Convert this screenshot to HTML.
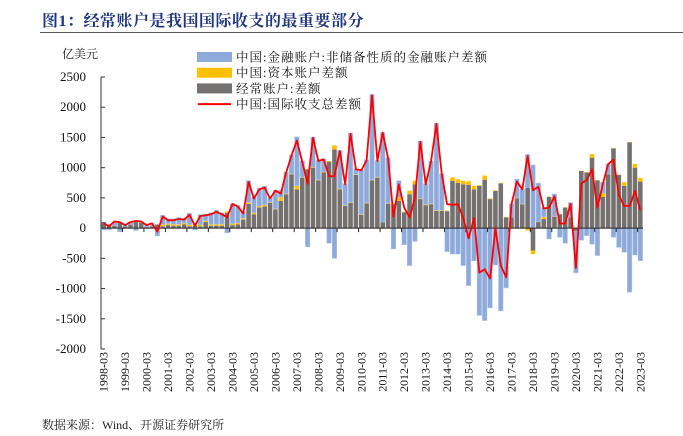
<!DOCTYPE html>
<html><head><meta charset="utf-8"><style>
body{margin:0;background:#fff;width:683px;height:436px;overflow:hidden;font-family:"Liberation Serif","Noto Serif CJK SC",serif}
#title{position:absolute;left:42px;top:8px;font-size:16px;font-weight:bold;color:#1f3580;font-family:"Liberation Serif","Noto Serif CJK SC",serif;letter-spacing:0.5px}
#rule{position:absolute;left:40px;top:32px;width:643px;height:1px;background:#555}
#unit{position:absolute;left:62px;top:45px;font-size:12px;color:#222}
#src{position:absolute;left:42px;top:416px;font-size:12px;color:#222}
svg{position:absolute;left:0;top:0}
</style></head><body>
<div id="title">图1：经常账户是我国国际收支的最重要部分</div>
<div id="rule"></div>
<div id="unit">亿美元</div>
<div id="src">数据来源：Wind、开源证券研究所</div>
<svg id="chart" width="683" height="436"></svg>
<script>
const yTicks=[2500,2000,1500,1000,500,0,-500,-1000,-1500,-2000];
const startYear=1998;
const currentAccount=[100,60,40,100,30,60,100,90,20,30,60,30,50,40,40,60,30,40,30,100,40,40,40,250,50,60,140,400,230,340,360,
420,310,450,560,890,640,835,970,1000,790,920,1100,1300,640,370,420,880,220,410,790,835,100,405,395,450,260,560,725,480,380,395,285,285,280,780,
750,725,715,640,700,800,480,615,740,176,176,495,395,670,-370,100,150,516,190,230,340,176,-50,945,920,1165,790,516,890,1320,880,700,1420,1000,770];
const capitalAccount=[0,0,0,0,0,0,0,0,0,0,0,25,25,25,25,25,25,25,25,25,25,25,25,25,25,25,25,25,25,25,25,
10,10,60,10,10,60,10,10,10,10,10,10,70,10,10,10,10,10,10,10,10,-10,10,10,60,10,60,60,10,10,10,10,10,10,60,
60,60,60,60,10,70,10,10,10,10,5,5,5,-40,-60,5,40,5,5,5,5,5,5,5,5,60,5,60,5,5,5,60,5,60,60];
const financialAccount=[-30,-30,60,-60,20,40,-40,20,30,50,-130,160,80,90,110,80,190,-30,170,110,190,230,190,-80,330,290,100,360,260,300,310,
70,310,120,358,310,810,265,-310,495,320,217,-250,-500,635,355,1140,93,736,710,1410,275,1480,750,-345,275,-275,-620,-220,950,345,705,1440,605,-390,-430,
-430,-620,-950,-540,-1445,-1530,-1320,-610,-1370,-990,220,310,245,550,1045,640,150,-180,370,-150,-250,240,-690,-200,-125,-265,-455,180,165,-150,-320,-400,-1060,-445,-540];
const totalBalance=[80,30,110,100,50,100,120,110,50,80,-60,190,130,130,150,140,220,40,200,210,230,270,230,180,400,360,240,765,490,640,670,
490,620,570,918,1200,1450,1100,736,1495,1110,1137,857,857,1275,725,1560,973,956,1120,2200,1110,1580,1154,187,725,340,176,505,1430,725,1100,1725,890,395,385,
395,176,-170,165,-736,-680,-835,0,-620,-813,395,770,640,1190,626,681,324,340,527,77,77,406,-660,736,800,972,340,725,1055,1137,544,368,368,615,297];

const NS='http://www.w3.org/2000/svg';
const svg=document.getElementById('chart');
const X0=101,X1=643,YT=77,YB=349,ymax=2500,ymin=-2000;
const n=totalBalance.length,band=(X1-X0)/n;
function y(v){return YT+(ymax-v)/(ymax-ymin)*(YB-YT);}
function xc(i){return X0+(i+0.5)*band;}
function mk(t,a,p){const e=document.createElementNS(NS,t);for(const k in a)e.setAttribute(k,a[k]);(p||svg).appendChild(e);return e;}

// axis
const ax=mk('line',{x1:X0,y1:YT,x2:X0,y2:YB,stroke:'#333','stroke-width':1});


yTicks.forEach(v=>{
  const t=mk('line',{x1:X0,y1:y(v),x2:X0+4,y2:y(v),stroke:'#333'});
  
  
  const l=mk('text',{x:86,y:y(v)+4,'text-anchor':'end','font-size':13,fill:'#111','font-family':'Liberation Serif,serif'});
  l.textContent=v;
  
  
});

// bars
for(let i=0;i<n;i++){
  const w=band-0.8,x=xc(i)-w/2;
  let pos=0,neg=0;
  const segs=[[currentAccount[i],'#767171','bar-current-account'],[capitalAccount[i],'#ffc000','bar-capital-account'],[financialAccount[i],'#8eaadb','bar-financial-account']];
  segs.forEach(s=>{
    const v=s[0];let a,b;
    if(v>=0){a=pos;b=pos+v;pos=b;}else{a=neg;b=neg+v;neg=b;}
    const r=mk('rect',{x:x,y:Math.min(y(a),y(b)),width:w,height:Math.abs(y(a)-y(b)),fill:s[1],stroke:s[1]=='#8eaadb'?'#b4c7e7':'none','stroke-width':0.5});
    
    
  });
}
// zero line
const z=mk('line',{x1:X0,y1:y(0),x2:X1,y2:y(0),stroke:'#222','stroke-width':1});


// x ticks and labels
for(let i=0;i<n;i+=4){
  const bx=X0+i*band;
  if(i>0){const t=mk('line',{x1:bx,y1:y(0),x2:bx,y2:y(0)+4,stroke:'#222'});
  
  }
  const lx=xc(i)+4,ly=352;
  const l=mk('text',{x:lx,y:ly,transform:`rotate(-90 ${lx} ${ly})`,'text-anchor':'end','font-size':12,fill:'#111','font-family':'Liberation Serif,serif'});
  l.textContent=(startYear+i/4)+'-03';
  
  
}
// line
let d='';
for(let i=0;i<n;i++)d+=(i?'L':'M')+xc(i).toFixed(1)+' '+y(totalBalance[i]).toFixed(1);
const pl=mk('path',{d:d,fill:'none',stroke:'#ff0000','stroke-width':1.8,'stroke-linejoin':'round'});



// legend
const leg=[['rect','#8eaadb','中国:金融账户:非储备性质的金融账户差额','legend-financial-account'],['rect','#ffc000','中国:资本账户差额','legend-capital-account'],['rect','#767171','经常账户:差额','legend-current-account'],['line','#ff0000','中国:国际收支总差额','legend-total-balance']];
leg.forEach((e,k)=>{
  const cy=57+k*15.7;
  const g=mk('g',{});
  
  
  if(e[0]=='rect')mk('rect',{x:197,y:cy-5,width:35,height:10,fill:e[1]},g);
  else mk('line',{x1:198,y1:cy,x2:231,y2:cy,stroke:e[1],'stroke-width':2},g);
  const t=mk('text',{x:236,y:cy+4.5,'font-size':12.5,fill:'#111','font-family':'Liberation Serif,Noto Serif CJK SC,serif','letter-spacing':'1'},g);
  t.textContent=e[2];
});
</script>
</body></html>
